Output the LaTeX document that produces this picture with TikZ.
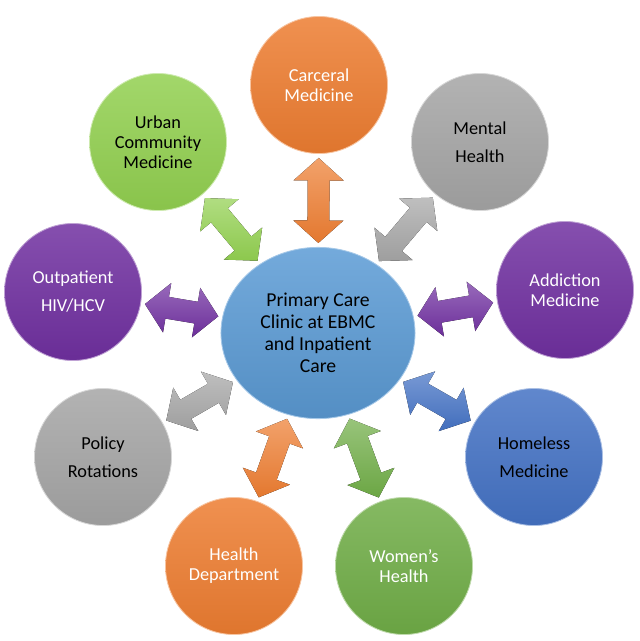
\documentclass[tikz,border=0pt]{standalone}
\usepackage{fontspec}
\setmainfont{Carlito}
\usetikzlibrary{calc,shapes.geometric}
\definecolor{ebmcorange}{HTML}{ED7D31}
\definecolor{ebmclime}{HTML}{92D050}
\definecolor{ebmcgreen}{HTML}{70AD47}
\definecolor{ebmcgray}{HTML}{A5A5A5}
\definecolor{ebmcpurple}{HTML}{7030A0}
\definecolor{ebmcblue}{HTML}{4472C4}
\definecolor{ebmcsky}{HTML}{5B9BD5}
\tikzset{
  unitball/.style = {circle, minimum size=3.425cm, inner sep=0pt, align=center,
                     top color=#1!85!white, bottom color=#1!94!black,
                     draw=#1!45!white, line width=0.6pt,
                     font=\fontsize{13}{14.2}\selectfont},
  unitwide/.style = {unitball=#1, font=\fontsize{13}{19.9}\selectfont},
  hubball/.style  = {ellipse, minimum width=4.85cm, minimum height=4.28cm, inner sep=0pt,
                     align=center, top color=ebmcsky!85!white, bottom color=ebmcsky!92!black,
                     draw=ebmcsky!55!white, line width=0.6pt,
                     font=\fontsize{14}{15.6}\selectfont},
  linkfill/.style = {top color=#1!72!white, bottom color=#1!96!black, draw=none},
}

\begin{document}
\begin{tikzpicture}[x=0.025cm, y=-0.025cm]
\useasboundingbox (0,0) rectangle (640,641);
% hub and the nine rotation units round it
\node[hubball] (hub) at (318,333) {Primary Care\\Clinic at EBMC\\and Inpatient\\Care};
\node[unitball=ebmcorange, text=white] (carceral)   at (319,85)  {Carceral\\Medicine};
\node[unitball=ebmclime]               (urban)      at (158,142) {Urban\\Community\\Medicine};
\node[unitwide=ebmcgray]               (mental)     at (480,142) {Mental\\Health};
\node[unitwide=ebmcpurple, text=white] (outpatient) at (73,292)  {Outpatient\\HIV/HCV};
\node[unitball=ebmcpurple, text=white] (addiction)  at (565,290) {Addiction\\Medicine};
\node[unitwide=ebmcgray]               (policy)     at (103,457) {Policy\\Rotations};
\node[unitwide=ebmcblue]               (homeless)   at (534,457) {Homeless\\Medicine};
\node[unitball=ebmcorange, text=white] (healthdept) at (234,566) {Health\\Department};
\node[unitball=ebmcgreen, text=white]  (womens)     at (404,566) {Women’s\\Health};
% double block arrows, hub <-> unit
\foreach \unit/\col in {carceral/ebmcorange, urban/ebmclime, mental/ebmcgray,
                        outpatient/ebmcpurple, addiction/ebmcpurple, policy/ebmcgray,
                        homeless/ebmcblue, healthdept/ebmcorange, womens/ebmcgreen} {
  \path (hub) -- coordinate[pos=0] (la) coordinate[pos=1] (lb) (\unit);
  \pgfpointdiff{\pgfpointanchor{la}{center}}{\pgfpointanchor{lb}{center}}
  \pgfgetlastxy{\ldx}{\ldy}
  \pgfmathsetmacro{\alen}{veclen(\ldx,\ldy)}
  \pgfmathsetmacro{\aang}{atan2(\ldy,\ldx)}
  \pgfmathsetmacro{\atip}{\alen-2.85}
  \pgfmathsetmacro{\abarb}{\alen-2.85-16}
  \fill[linkfill=\col, shift={(la)}, rotate=\aang]
    (2.85pt,0pt) -- (18.85pt,17.8pt) -- (18.85pt,7.8pt) -- (\abarb pt,7.8pt)
    -- (\abarb pt,17.8pt) -- (\atip pt,0pt) -- (\abarb pt,-17.8pt) -- (\abarb pt,-7.8pt)
    -- (18.85pt,-7.8pt) -- (18.85pt,-17.8pt) -- cycle;
}
\end{tikzpicture}
\end{document}
